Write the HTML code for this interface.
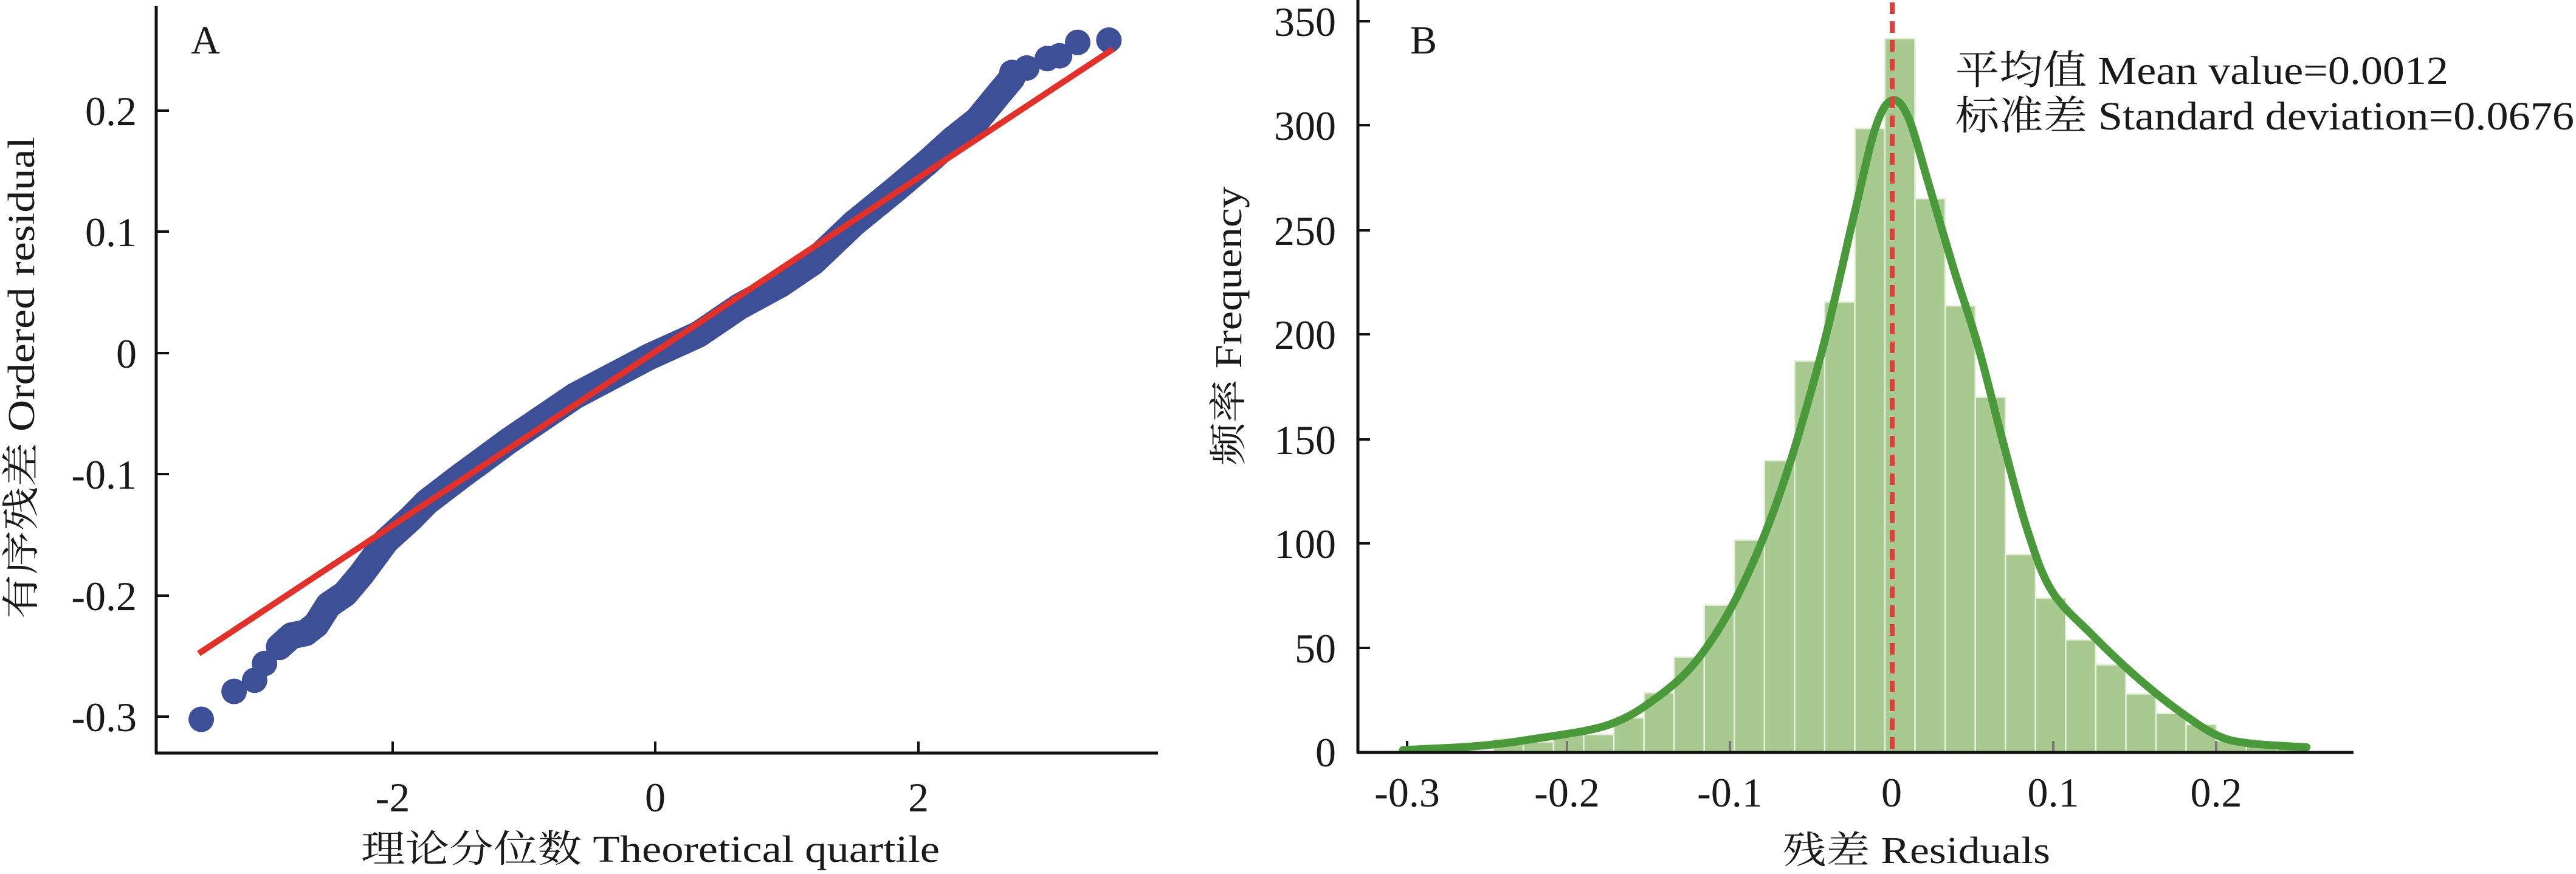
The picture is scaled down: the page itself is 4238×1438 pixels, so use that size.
<!DOCTYPE html>
<html><head><meta charset="utf-8"><style>
html,body{margin:0;padding:0;background:#fff}
svg{display:block}
text{font-family:"Liberation Serif","Noto Serif CJK SC","Noto Sans CJK SC",serif;fill:#1a1a1a}
</style></head><body>
<svg id="s" width="4238" height="1438" viewBox="0 0 4238 1438" xmlns="http://www.w3.org/2000/svg">
<rect width="4238" height="1438" fill="#fff"/>
<g id="A"></g>
<g id="B"></g>
<line x1="257" y1="10" x2="257" y2="1240" stroke="#111" stroke-width="5"/>
<line x1="255" y1="1239" x2="1905" y2="1239" stroke="#111" stroke-width="5"/>
<g stroke="#111" stroke-width="4">
<line x1="257" y1="182" x2="278" y2="182"/><line x1="257" y1="381" x2="278" y2="381"/>
<line x1="257" y1="581" x2="278" y2="581"/><line x1="257" y1="780" x2="278" y2="780"/>
<line x1="257" y1="980" x2="278" y2="980"/><line x1="257" y1="1179" x2="278" y2="1179"/>
<line x1="646" y1="1239" x2="646" y2="1220"/><line x1="1078" y1="1239" x2="1078" y2="1220"/>
<line x1="1511" y1="1239" x2="1511" y2="1220"/>
</g>
<g font-size="68" text-anchor="end">
<text x="225" y="206">0.2</text><text x="225" y="405">0.1</text><text x="225" y="605">0</text>
<text x="225" y="804">-0.1</text><text x="225" y="1004">-0.2</text><text x="225" y="1203">-0.3</text>
</g>
<g font-size="68" text-anchor="middle">
<text x="646" y="1335">-2</text><text x="1078" y="1335">0</text><text x="1511" y="1335">2</text>
</g>
<text x="594" y="1418" font-size="62" textLength="952" lengthAdjust="spacingAndGlyphs">理论分位数 Theoretical quartile</text>
<text transform="translate(56,1018) rotate(-90)" font-size="62" textLength="793" lengthAdjust="spacingAndGlyphs">有序残差 Ordered residual</text>
<text x="338" y="88" font-size="66" text-anchor="middle">A</text>

<line x1="2234" y1="0" x2="2234" y2="1239" stroke="#111" stroke-width="5"/>
<line x1="2232" y1="1238" x2="3872" y2="1238" stroke="#111" stroke-width="5"/>
<g stroke="#111" stroke-width="4">
<line x1="2234" y1="35" x2="2254" y2="35"/><line x1="2234" y1="206" x2="2254" y2="206"/>
<line x1="2234" y1="379" x2="2254" y2="379"/><line x1="2234" y1="550" x2="2254" y2="550"/>
<line x1="2234" y1="723" x2="2254" y2="723"/><line x1="2234" y1="894" x2="2254" y2="894"/>
<line x1="2234" y1="1066" x2="2254" y2="1066"/>
</g>
<g font-size="68" text-anchor="end">
<text x="2198" y="59">350</text><text x="2198" y="230">300</text><text x="2198" y="403">250</text>
<text x="2198" y="574">200</text><text x="2198" y="747">150</text><text x="2198" y="918">100</text>
<text x="2198" y="1090">50</text><text x="2198" y="1261">0</text>
</g>
<g font-size="68" text-anchor="middle">
<text x="2315" y="1327">-0.3</text><text x="2578" y="1327">-0.2</text><text x="2846" y="1327">-0.1</text>
<text x="3112" y="1327">0</text><text x="3378" y="1327">0.1</text><text x="3646" y="1327">0.2</text>
</g>
<text x="3153" y="1420" font-size="62" text-anchor="middle" textLength="440" lengthAdjust="spacingAndGlyphs">残差 Residuals</text>
<text transform="translate(2042,766) rotate(-90)" font-size="62" textLength="459" lengthAdjust="spacingAndGlyphs">频率 Frequency</text>
<text x="2342" y="88" font-size="66" text-anchor="middle">B</text>
<text x="3217" y="138" font-size="66" textLength="811" lengthAdjust="spacingAndGlyphs">平均值 Mean value=0.0012</text>
<text x="3217" y="213" font-size="66" textLength="1018" lengthAdjust="spacingAndGlyphs">标准差 Standard deviation=0.0676</text>
</svg>
<script>
var NS="http://www.w3.org/2000/svg";
function el(p,t,a){var e=document.createElementNS(NS,t);for(var k in a)e.setAttribute(k,a[k]);p.appendChild(e);return e;}
var A=document.getElementById('A');
function ax(z){return z/0.74;} function ay(z){return z/1.09;}
var body=[[340,1160],[355,1140],[372,1135],[385,1120],[400,1085],[420,1065],[440,1030],[455,1000],[470,970],[500,930],[520,900],[560,855],[620,790],[700,710],[790,640],[850,600],[900,550],[950,510],[990,470],[1040,400],[1090,340],[1130,290],[1160,250],[1190,215],[1215,170],[1232,140]];
var pts=body.map(function(p){return ax(p[0])+","+ay(p[1]);}).join(" ");
el(A,'polyline',{points:pts,fill:'none',stroke:'#3d4f96','stroke-width':44,'stroke-linecap':'round','stroke-linejoin':'round'});
[[245,1290],[285,1240],[310,1220],[322,1190],[340,1160],[1232,130],[1250,122],[1275,105],[1290,100],[1312,76],[1350,72]].forEach(function(p){
 el(A,'circle',{cx:ax(p[0]),cy:ay(p[1]),r:21,fill:'#3d4f96'});});
el(A,'line',{x1:ax(242),y1:ay(1172),x2:ax(1355),y2:ay(88),stroke:'#e2312b','stroke-width':10});
var B=document.getElementById('B');
var f=[6.1,4.8,9.6,8.3,16.3,28.3,45.4,70.3,101.5,139.5,187.3,215.6,298.7,341.8,265,213.7,169.9,94.6,73.7,53.7,41.7,27.8,18.4,13.1,5.3,3.5,2.7];
for(var i=0;i<f.length;i++){
 var x0=2119+(250+36.67*i)/0.74, w=36.67/0.74, h=f[i]/50*171.7;
 el(B,'rect',{x:x0,y:1237-h,width:w,height:h,fill:'#a8c98f',stroke:'#e6f0dc','stroke-width':2.5});
}
[2578,2846,3378,3646].forEach(function(x){el(B,'line',{x1:x,y1:1237,x2:x,y2:1219,stroke:'#777','stroke-width':4});});
el(B,'line',{x1:2315,y1:1237,x2:2315,y2:1219,stroke:'#111','stroke-width':4});
var k=[[140,1345],[230,1338],[300,1325],[390,1300],[450,1250],[500,1180],[550,1060],[600,880],[650,630],[690,380],[715,230],[735,180],[755,210],[780,330],[810,480],[840,620],[870,790],[900,950],[930,1060],[980,1140],[1030,1210],[1080,1270],[1130,1318],[1170,1333],[1240,1340]];
var P=k.map(function(p){return [2119+p[0]/0.74,p[1]/1.09];});
var d="M"+P[0][0]+","+P[0][1];
for(var i=0;i<P.length-1;i++){
 var p0=P[i-1]||P[i],p1=P[i],p2=P[i+1],p3=P[i+2]||P[i+1];
 d+=" C"+(p1[0]+(p2[0]-p0[0])/6)+","+(p1[1]+(p2[1]-p0[1])/6)+" "+(p2[0]-(p3[0]-p1[0])/6)+","+(p2[1]-(p3[1]-p1[1])/6)+" "+p2[0]+","+p2[1];
}
el(B,'path',{d:d,fill:'none',stroke:'#4a9a3c','stroke-width':13,'stroke-linecap':'round','stroke-linejoin':'round'});
el(B,'line',{x1:3113,y1:4,x2:3113,y2:1237,stroke:'#e0403a','stroke-width':8,'stroke-dasharray':'19 12'});
</script>
</body></html>
